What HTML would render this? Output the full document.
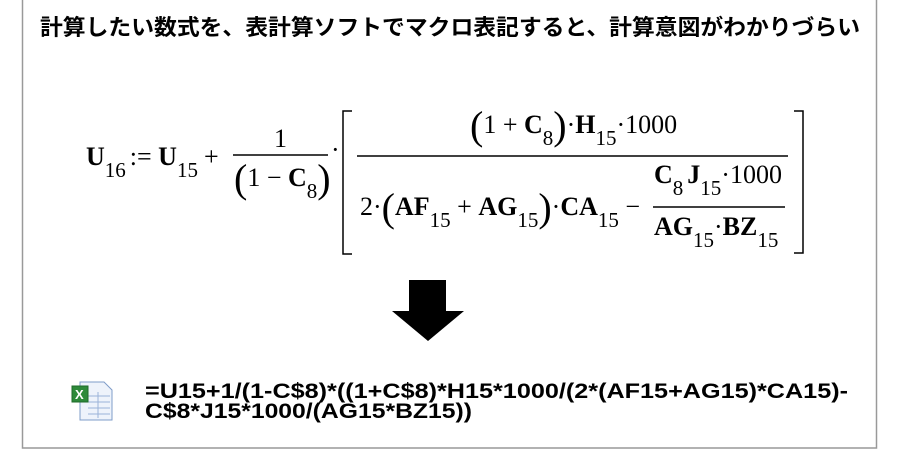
<!DOCTYPE html>
<html><head><meta charset="utf-8"><style>
html,body{margin:0;padding:0;background:#fff;}
svg{display:block;}
.m{font-family:"Liberation Serif",serif;font-size:26px;fill:#000;}
.b{font-weight:bold;}
.s{font-size:21px;}
</style></head><body>
<svg width="900" height="450" viewBox="0 0 900 450" xmlns="http://www.w3.org/2000/svg">
<rect x="22.5" y="-1" width="854" height="449" fill="#fff" stroke="#999" stroke-width="1.5"/>
<text x="40" y="35" font-family="'Liberation Sans','Noto Sans CJK JP',sans-serif" font-size="22" font-weight="bold" textLength="820" lengthAdjust="spacingAndGlyphs">計算したい数式を、表計算ソフトでマクロ表記すると、計算意図がわかりづらい</text>

<g class="m">
<text x="86" y="165"><tspan class="b">U</tspan><tspan class="s" dy="12">16</tspan><tspan dy="-12" dx="4">:= </tspan><tspan class="b">U</tspan><tspan class="s" dy="12">15</tspan><tspan dy="-12" dx="6">+</tspan></text>
<text x="274" y="147">1</text>
<line x1="233" y1="155" x2="328" y2="155" stroke="#000" stroke-width="1.5"/>
<text x="234" y="186"><tspan font-size="40" dy="6">(</tspan><tspan dy="-6">1 − </tspan><tspan class="b">C</tspan><tspan class="s" dy="12">8</tspan><tspan font-size="40" dy="-6">)</tspan></text>
<text x="331" y="158">·</text>
<path d="M352 111 H343 V254 H352" fill="none" stroke="#000" stroke-width="1.5"/>
<line x1="357" y1="156" x2="788" y2="156" stroke="#000" stroke-width="1.5"/>
<text x="470" y="133"><tspan font-size="40" dy="6">(</tspan><tspan dy="-6">1 + </tspan><tspan class="b">C</tspan><tspan class="s" dy="12">8</tspan><tspan font-size="40" dy="-6">)</tspan><tspan dy="-6">·</tspan><tspan class="b">H</tspan><tspan class="s" dy="12">15</tspan><tspan dy="-12">·1000</tspan></text>
<text x="360" y="215">2·<tspan font-size="40" dy="6">(</tspan><tspan class="b" dy="-6">AF</tspan><tspan class="s" dy="12">15</tspan><tspan dy="-12"> + </tspan><tspan class="b">AG</tspan><tspan class="s" dy="12">15</tspan><tspan font-size="40" dy="-6">)</tspan><tspan dy="-6">·</tspan><tspan class="b">CA</tspan><tspan class="s" dy="12">15</tspan><tspan dy="-12"> −</tspan></text>
<text x="654" y="183"><tspan class="b">C</tspan><tspan class="s" dy="12">8</tspan><tspan class="b" dy="-12" dx="4">J</tspan><tspan class="s" dy="12">15</tspan><tspan dy="-12">·1000</tspan></text>
<line x1="653" y1="207" x2="785" y2="207" stroke="#000" stroke-width="1.5"/>
<text x="654" y="235"><tspan class="b">AG</tspan><tspan class="s" dy="12">15</tspan><tspan dy="-12">·</tspan><tspan class="b">BZ</tspan><tspan class="s" dy="12">15</tspan></text>
<path d="M794 111 H803 V253 H794" fill="none" stroke="#000" stroke-width="1.5"/>
</g>

<polygon points="409,280 446,280 446,311 464,311 428,341 392,311 409,311" fill="#000"/>

<g>
<path d="M80 382 H104 L112 390 V420 H80 Z" fill="#eef3fb" stroke="#7f9cc8" stroke-width="1"/>
<g stroke="#9bb3d8" stroke-width="1"><line x1="88" y1="396" x2="110" y2="396"/><line x1="88" y1="402" x2="110" y2="402"/><line x1="88" y1="408" x2="110" y2="408"/><line x1="88" y1="414" x2="110" y2="414"/><line x1="98" y1="392" x2="98" y2="418"/></g>
<rect x="72" y="386" width="16" height="16" fill="#2e8a3a" stroke="#1f6b2a"/>
<text x="75" y="399" font-family="'Liberation Sans',sans-serif" font-size="13" font-weight="bold" fill="#fff">X</text>
</g>
<g font-family="'Liberation Sans',sans-serif" font-size="21" font-weight="bold" fill="#000">
<text x="145" y="398" textLength="703" lengthAdjust="spacingAndGlyphs">=U15+1/(1-C$8)*((1+C$8)*H15*1000/(2*(AF15+AG15)*CA15)-</text>
<text x="145" y="418" textLength="327" lengthAdjust="spacingAndGlyphs">C$8*J15*1000/(AG15*BZ15))</text>
</g>
</svg>
</body></html>
